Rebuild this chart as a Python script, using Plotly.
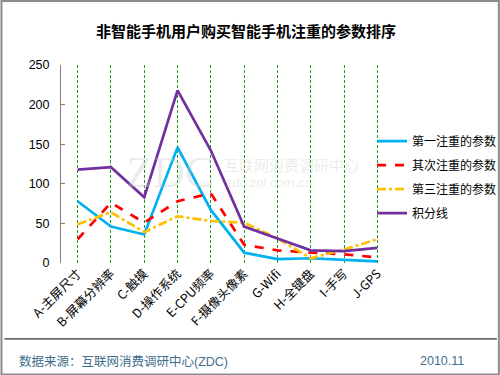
import plotly.graph_objects as go

categories = ["A-主屏尺寸", "B-屏幕分辨率", "C-触摸", "D-操作系统", "E-CPU频率",
              "F-摄像头像素", "G-Wifi", "H-全键盘", "I-手写", "J-GPS"]
first = [78, 46, 36, 146, 67, 13, 5, 6, 4, 2]
second = [30, 76, 51, 78, 88, 23, 16, 13, 11, 7]
third = [49, 64, 39, 59, 53, 51, 31, 6, 17, 30]
score = [118, 121, 83, 218, 142, 46, 31, 16, 15, 19]
y_ticks = [0, 50, 100, 150, 200, 250]

FONT = "Liberation Sans, Noto Sans CJK SC, sans-serif"

# plot-area pixel geometry (for converting page pixels to paper coords)
L, R, T, B = 60.6, 394.0, 65.0, 262.7
W, H = R - L, B - T
px = lambda x: (x - L) / W
py = lambda y: (B - y) / H

fig = go.Figure()
series = [
    ("第一注重的参数", first, "#00B0F0", "solid"),
    ("其次注重的参数", second, "#FF0000", "dash"),
    ("第三注重的参数", third, "#FFC000", "dashdot"),
    ("积分线", score, "#7030A0", "solid"),
]
for i, (name, vals, col, dash) in enumerate(series):
    fig.add_trace(go.Scatter(
        x=categories, y=vals, name=name, mode="lines",
        line=dict(color=col, width=2.7, dash=dash),
        legendgroup=str(i),
    ))

shapes = []
# border
shapes.append(dict(type="rect", xref="paper", yref="paper",
                   x0=px(1), x1=px(499), y0=py(374), y1=py(1),
                   line=dict(color="#8c8c8c", width=2), layer="below"))
# footer separator
shapes.append(dict(type="line", xref="paper", yref="paper",
                   x0=px(4), x1=px(497), y0=py(338.5), y1=py(338.5),
                   line=dict(color="#000000", width=1)))

annotations = [
    dict(text="数据来源：互联网消费调研中心(ZDC)", xref="paper", yref="paper",
         x=px(17), y=py(361), xanchor="left", yanchor="middle", showarrow=False,
         font=dict(family=FONT, size=12.5, color="#3E6E8C")),
    dict(text="2010.11", xref="paper", yref="paper",
         x=px(466), y=py(361), xanchor="right", yanchor="middle", showarrow=False,
         font=dict(family=FONT, size=12.5, color="#3E6E8C")),
    # faint watermark
    dict(text="ZDC", xref="paper", yref="paper", x=px(216), y=py(172), xanchor="right",
         showarrow=False, font=dict(family="Liberation Serif", size=44, color="rgba(200,200,200,0.35)")),
    dict(text="互联网消费调研中心", xref="paper", yref="paper", x=px(222), y=py(164), xanchor="left",
         showarrow=False, font=dict(family="Noto Sans CJK SC", size=15, color="rgba(200,200,200,0.35)")),
    dict(text="zdc.zol.com.cn", xref="paper", yref="paper", x=px(224), y=py(182), xanchor="left",
         showarrow=False, font=dict(family=FONT, size=13, color="rgba(200,200,200,0.35)")),
]

fig.update_layout(
    width=500, height=375,
    margin=dict(l=L, r=500 - R, t=T, b=375 - B, autoexpand=False),
    paper_bgcolor="white", plot_bgcolor="white",
    title=dict(text="<b>非智能手机用户购买智能手机注重的参数排序</b>",
               x=246 / 500, xanchor="center", y=1 - 32 / 375, yanchor="middle",
               font=dict(family="Noto Sans CJK SC, sans-serif", size=15, color="black")),
    font=dict(family=FONT, size=12, color="black"),
    showlegend=True,
    legend=dict(x=px(372), xanchor="left", y=py(126.5), yanchor="top",
                bgcolor="rgba(0,0,0,0)", tracegroupgap=5,
                font=dict(family="Noto Sans CJK SC, sans-serif", size=12, color="black"),
                itemwidth=30),
    xaxis=dict(type="category", range=[-0.5, 9.5], tickangle=-45,
               showgrid=True, gridcolor="#1E9B1E", griddash="3px,2px", gridwidth=1,
               showline=False, ticks="", zeroline=False,
               tickfont=dict(family="Noto Sans CJK SC, Liberation Sans, sans-serif", size=12.5, color="black")),
    yaxis=dict(range=[0, 250], tickvals=y_ticks, showgrid=False, zeroline=False,
               showline=True, linecolor="#808080", linewidth=1,
               ticks="inside", ticklen=4, tickcolor="#808080",
               ticklabelstandoff=8,
               tickfont=dict(family=FONT, size=12.5, color="black")),
    shapes=shapes, annotations=annotations,
)

fig.write_html("out.html", config={"displayModeBar": False},
               post_script="document.body.style.margin='0';document.body.style.overflow='hidden';")
